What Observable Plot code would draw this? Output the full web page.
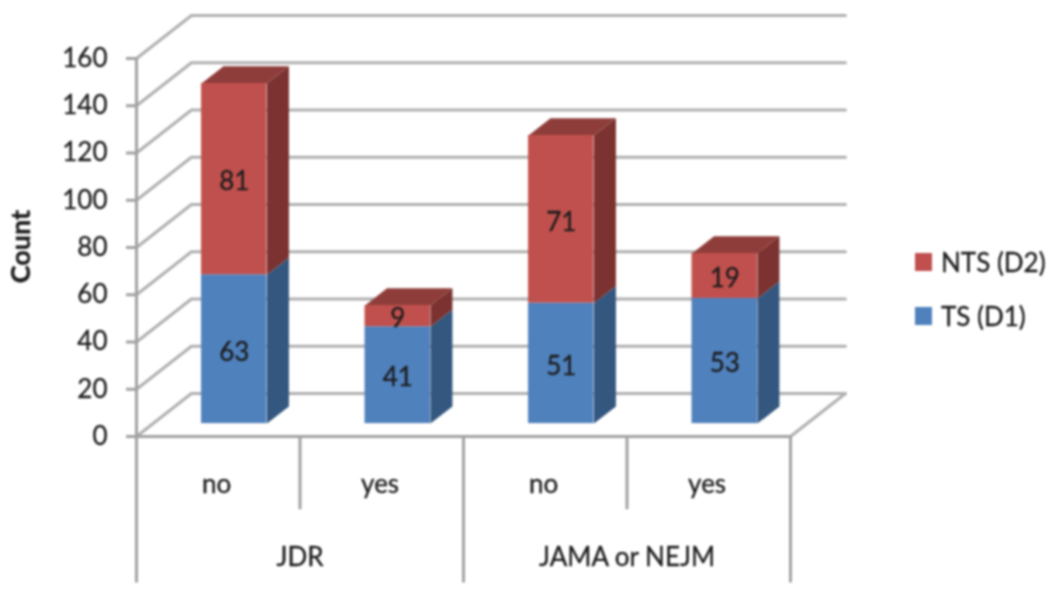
<!DOCTYPE html>
<html><head><meta charset="utf-8">
<script src="https://cdn.jsdelivr.net/npm/d3@7"></script>
<script src="https://cdn.jsdelivr.net/npm/@observablehq/plot@0.6"></script>
<style>
html,body{margin:0;background:#fff;overflow:hidden}
#wrap{position:relative;width:1050px;height:596px;filter:blur(0.9px);font-family:Lato,sans-serif;color:#1c1c1c}
#wrap svg{display:block;position:absolute;left:0;top:0;background:none}
.lg{position:absolute;left:915px;display:flex;align-items:center;font-size:26px;line-height:18px;height:18px;white-space:nowrap;-webkit-text-stroke:0.3px #1c1c1c}
.lg i{display:block;width:17px;height:18px;margin-right:9px}
</style></head><body><div id="wrap"></div>
<script>
const groups = ["JDR", "JDR", "JAMA or NEJM", "JAMA or NEJM"];
const categories = ["no", "yes", "no", "yes"];
const groupLabels = ["JDR", "JAMA or NEJM"];
const tsD1 = [63, 41, 51, 53];
const ntsD2 = [81, 9, 71, 19];
const yTicks = [0, 20, 40, 60, 80, 100, 120, 140, 160];
const seriesNames = ["NTS (D2)", "TS (D1)"];
const frontColors = {"TS (D1)": "#4f81bd", "NTS (D2)": "#c0504d"};
const sideColors = {"TS (D1)": "#34577f", "NTS (D2)": "#7b3230"};
const topColor = "#8f3d3a";

// oblique projection: depth 0 = front plane, depth 1 = back wall
const DX = 0.336, DY = 18.2;
const P = (u, v, d) => ({x: u + d * DX, y: v + d * DY});
const barFront = 0.3, barBack = 0.7, inset = 0.297, barW = 0.4, fontSize = 26;
const textStyle = {fill: "#1c1c1c", stroke: "#1c1c1c", strokeWidth: 0.3};

const grid = yTicks.flatMap(t => [P(0, t, 0), P(0, t, 1), P(4.0, t, 1)].map(p => ({...p, t})));
const floor = [P(0, 0, 1), P(4, 0, 1), P(4, 0, 0)];

const segments = categories.flatMap((c, i) => {
  const x1 = i + inset, x2 = x1 + barW;
  return [
    {s: "TS (D1)", v0: 0, v1: tsD1[i], val: tsD1[i], x1, x2, i},
    {s: "NTS (D2)", v0: tsD1[i], v1: tsD1[i] + ntsD2[i], val: ntsD2[i], x1, x2, i}
  ];
});
const poly = (id, fill, pts) => pts.map(p => ({...p, id, fill}));
const faces = segments.flatMap((g, k) => {
  const xf = g.x2, a = P(xf, g.v0, barFront), b = P(xf, g.v0, barBack), c = P(xf, g.v1, barBack), d = P(xf, g.v1, barFront);
  return poly("s" + k, sideColors[g.s], [a, b, c, d]);
});
const tops = categories.flatMap((c, i) => {
  const x1 = i + inset, x2 = x1 + barW, v = tsD1[i] + ntsD2[i];
  return poly("t" + i, topColor, [P(x1, v, barFront), P(x1, v, barBack), P(x2, v, barBack), P(x2, v, barFront)]);
});
const front = segments.map(g => {
  const a = P(g.x1, g.v0, barFront), b = P(g.x2, g.v1, barFront);
  return {x1: a.x, x2: b.x, y1: a.y, y2: b.y, s: g.s, val: g.val, cx: (a.x + b.x) / 2, cy: (a.y + b.y) / 2};
});

const plot = Plot.plot({
  width: 1050, height: 596,
  marginLeft: 136, marginRight: 0, marginTop: 0, marginBottom: 0,
  x: {domain: [0, 4], range: [136, 790], axis: null},
  y: {domain: [0, 160], range: [436, 58], axis: null},
  style: {fontFamily: "Lato, sans-serif", background: "none", overflow: "visible"},
  marks: [
    Plot.line(grid, {x: "x", y: "y", z: "t", stroke: "#b0b0b0", strokeWidth: 3}),
    Plot.line(floor, {x: "x", y: "y", stroke: "#b0b0b0", strokeWidth: 3}),
    Plot.ruleX([0], {y1: -62, y2: 160, stroke: "#a2a2a2", strokeWidth: 3}),
    Plot.ruleY([0], {x1: 0, x2: 4, stroke: "#a2a2a2", strokeWidth: 3}),
    Plot.ruleX([2, 4], {y1: -62, y2: 0, stroke: "#a2a2a2", strokeWidth: 3}),
    Plot.ruleX([1, 3], {y1: -31, y2: 0, stroke: "#a2a2a2", strokeWidth: 3}),
    Plot.axisY({ticks: yTicks, anchor: "left", tickSize: 10, tickPadding: 19, stroke: "#a2a2a2", strokeWidth: 3, fontSize, label: null, tickFormat: d => d, color: "#1c1c1c", textStroke: "#1c1c1c", textStrokeWidth: 0.3}),
    Plot.line(faces, {x: "x", y: "y", z: "id", fill: d => d.fill, stroke: "none"}),
    Plot.line(tops, {x: "x", y: "y", z: "id", fill: d => d.fill, stroke: "none"}),
    Plot.rect(front, {x1: "x1", x2: "x2", y1: "y1", y2: "y2", fill: d => frontColors[d.s]}),
    Plot.text(front, {x: "cx", y: "cy", text: d => String(d.val), fontSize, dy: 3, ...textStyle}),
    Plot.text(categories, {x: (d, i) => i + 0.5 - 0.01, y: () => -20.3, text: d => d, fontSize, ...textStyle}),
    Plot.text(groupLabels, {x: (d, i) => 2 * i + 1, y: () => -51.3, text: d => d, fontSize, ...textStyle}),
    Plot.text(["Count"], {x: () => -0.705, y: () => 80.4, text: d => d, rotate: -90, fontSize: 27, fontWeight: "bold", fill: "#1c1c1c", stroke: "#1c1c1c", strokeWidth: 0.4})
  ]
});
const wrap = document.getElementById("wrap");
wrap.append(plot);
const tops_px = {"NTS (D2)": 253, "TS (D1)": 307};
for (const name of seriesNames) {
  const d = document.createElement("div");
  d.className = "lg";
  d.style.top = tops_px[name] + "px";
  const sw = document.createElement("i");
  sw.style.background = frontColors[name];
  d.append(sw, document.createTextNode(name));
  wrap.append(d);
}
</script></body></html>
